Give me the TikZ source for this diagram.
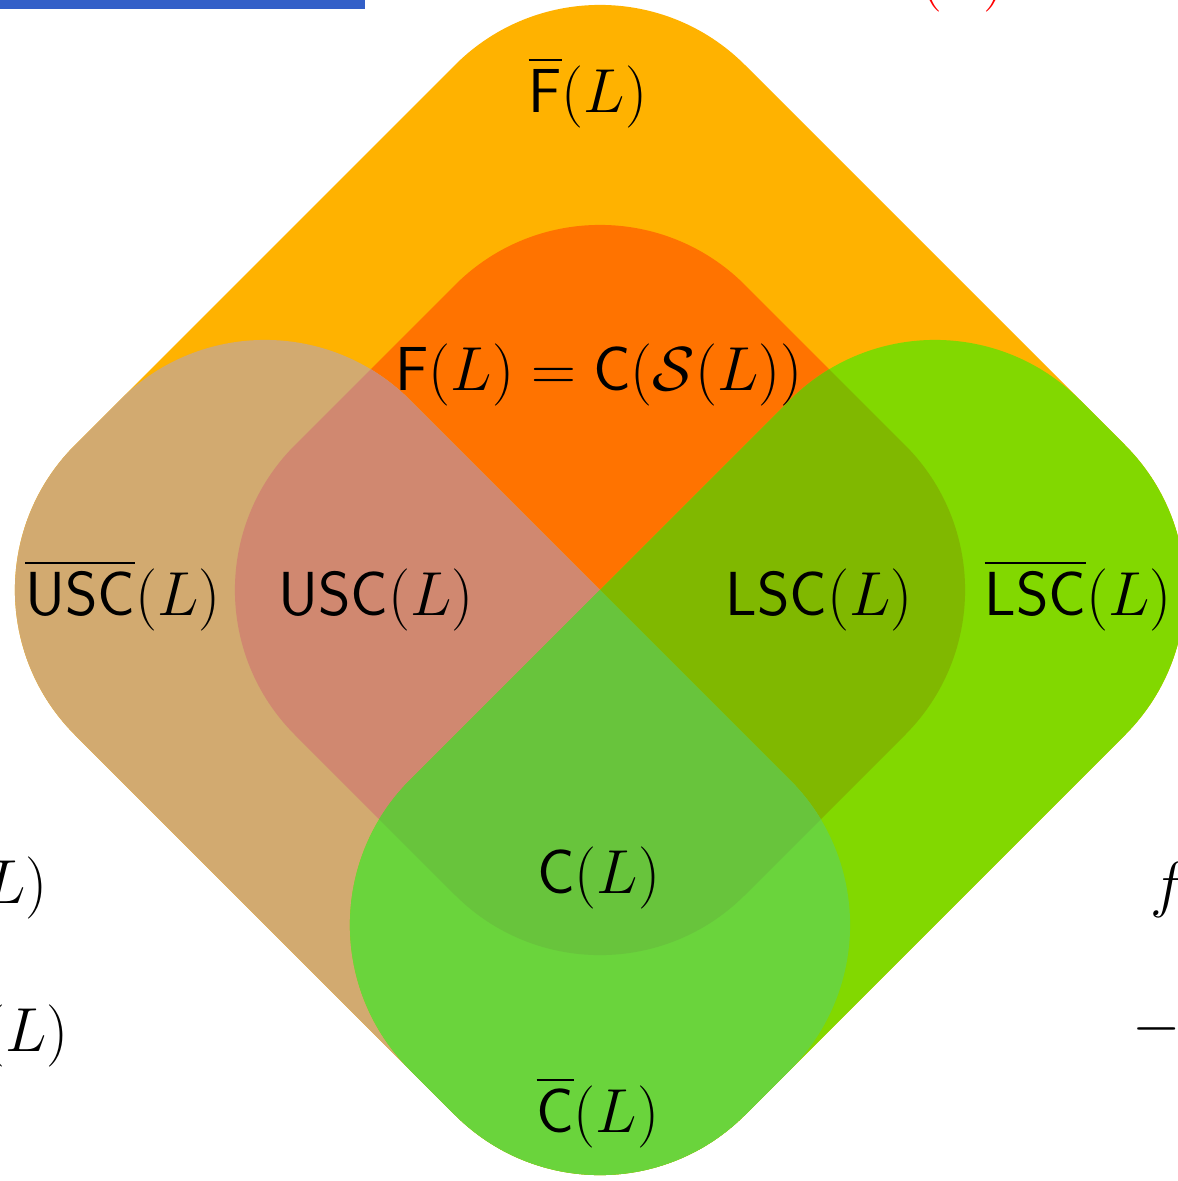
\documentclass[tikz,border=0pt]{standalone}
\usepackage{amsmath}
\definecolor{cYellow}{RGB}{255,178,0}
\definecolor{cOrange}{RGB}{255,115,0}
\definecolor{cTan}{RGB}{210,170,112}
\definecolor{cSalmon}{RGB}{208,136,112}
\definecolor{cLime}{RGB}{130,216,0}
\definecolor{cOlive}{RGB}{128,184,0}
\definecolor{cGreen}{RGB}{106,212,60}
\definecolor{cCGreen}{RGB}{104,196,60}
\definecolor{cBlue}{RGB}{51,96,200}
\tikzset{
  rr/.style={rounded corners=82pt},
  lbl/.style={anchor=base, inner sep=0pt, font=\fontsize{23.8}{28}\selectfont},
  edge lbl/.style={inner sep=0pt, font=\fontsize{23.8}{28}\selectfont}
}
\begin{document}
\begin{tikzpicture}[x=0.4pt,y=-0.4pt]
\useasboundingbox (0,0) rectangle (1178,1181);
\clip (0,0) rectangle (1178,1181);
% big diamond
\fill[cYellow, rr] (935,255) -- (600,-80) -- (-70,590) -- (600,1260) -- (1270,590) -- cycle;
% inner diamond
\fill[cOrange, rr] (600,140) -- (150,590) -- (600,1040) -- (1050,590) -- cycle;
% left (tan) and right (lime) halves
\fill[cTan, rr] (600,590) -- (265,255) -- (-70,590) -- (600,1260) -- (935,925) -- cycle;
\fill[cLime, rr] (600,590) -- (935,255) -- (1270,590) -- (600,1260) -- (265,925) -- cycle;
% overlaps with inner
\begin{scope}
  \clip[rr] (600,140) -- (150,590) -- (600,1040) -- (1050,590) -- cycle;
  \fill[cSalmon, rr] (600,590) -- (265,255) -- (-70,590) -- (600,1260) -- (935,925) -- cycle;
  \fill[cOlive, rr] (600,590) -- (935,255) -- (1270,590) -- (600,1260) -- (265,925) -- cycle;
\end{scope}
% tan and lime overlap
\begin{scope}
  \clip[rr] (600,590) -- (265,255) -- (-70,590) -- (600,1260) -- (935,925) -- cycle;
  \fill[cGreen, rr] (600,590) -- (935,255) -- (1270,590) -- (600,1260) -- (265,925) -- cycle;
\end{scope}
\begin{scope}
  \clip[rr] (600,590) -- (265,255) -- (-70,590) -- (600,1260) -- (935,925) -- cycle;
  \clip[rr] (600,140) -- (150,590) -- (600,1040) -- (1050,590) -- cycle;
  \fill[cCGreen, rr] (600,590) -- (935,255) -- (1270,590) -- (600,1260) -- (265,925) -- cycle;
\end{scope}
% labels
\node[lbl] (fbar) at (588,112) {$\overline{\mathsf{F}}(L)$};
\node[lbl] (f) at (599,390) {$\mathsf{F}(L)=\mathsf{C}(\mathcal{S}(L))$};
\node[lbl] (uscbar) at (123,615) {$\overline{\mathsf{USC}}(L)$};
\node[lbl] (usc) at (376,615) {$\mathsf{USC}(L)$};
\node[lbl] (lsc) at (819,615) {$\mathsf{LSC}(L)$};
\node[lbl] (lscbar) at (1078,615) {$\overline{\mathsf{LSC}}(L)$};
\node[lbl] (c) at (599,893) {$\mathsf{C}(L)$};
\node[lbl] (cbar) at (598,1132) {$\overline{\mathsf{C}}(L)$};
% surrounding slide fragments
\fill[cBlue] (0,0) rectangle (365,9);
\node[edge lbl, anchor=base east, text=red] (redtop) at (1006,-4) {$(L)$};
\node[edge lbl, anchor=base east] (leftA) at (48,903) {$(L)$};
\node[edge lbl, anchor=base east] (leftB) at (69,1051) {$(L)$};
\node[edge lbl, anchor=base west] (rightA) at (1150,905) {$f$};
\node[edge lbl, anchor=base west] (rightB) at (1132,1044) {$-$};
\end{tikzpicture}
\end{document}
